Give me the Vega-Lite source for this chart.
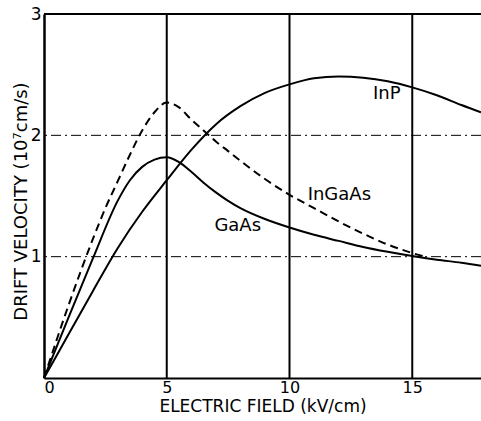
{
  "$schema": "https://vega.github.io/schema/vega-lite/v6.json",
  "autosize": "none",
  "width": 437,
  "height": 364,
  "padding": {"left": 44, "top": 14, "right": 0, "bottom": 43},
  "background": "white",
  "config": {"view": {"stroke": null}, "font": "DejaVu Sans"},
  "datasets": {
    "curves": [
      {"series": "GaAs", "x": 0, "y": 0}, {"series": "GaAs", "x": 1, "y": 0.5}, {"series": "GaAs", "x": 2, "y": 0.99},
      {"series": "GaAs", "x": 3, "y": 1.46}, {"series": "GaAs", "x": 3.5, "y": 1.63}, {"series": "GaAs", "x": 4, "y": 1.74},
      {"series": "GaAs", "x": 4.5, "y": 1.80}, {"series": "GaAs", "x": 5, "y": 1.82}, {"series": "GaAs", "x": 5.5, "y": 1.78},
      {"series": "GaAs", "x": 6, "y": 1.70}, {"series": "GaAs", "x": 6.5, "y": 1.61}, {"series": "GaAs", "x": 7, "y": 1.53},
      {"series": "GaAs", "x": 7.5, "y": 1.46}, {"series": "GaAs", "x": 8, "y": 1.40}, {"series": "GaAs", "x": 9, "y": 1.31},
      {"series": "GaAs", "x": 10, "y": 1.24}, {"series": "GaAs", "x": 11, "y": 1.18}, {"series": "GaAs", "x": 12, "y": 1.13},
      {"series": "GaAs", "x": 13, "y": 1.08}, {"series": "GaAs", "x": 14, "y": 1.04}, {"series": "GaAs", "x": 15, "y": 1.005},
      {"series": "GaAs", "x": 16, "y": 0.975}, {"series": "GaAs", "x": 17, "y": 0.95}, {"series": "GaAs", "x": 17.8, "y": 0.925},
      {"series": "InGaAs", "x": 0, "y": 0}, {"series": "InGaAs", "x": 1, "y": 0.6}, {"series": "InGaAs", "x": 2, "y": 1.15},
      {"series": "InGaAs", "x": 2.5, "y": 1.4}, {"series": "InGaAs", "x": 3, "y": 1.62}, {"series": "InGaAs", "x": 3.5, "y": 1.84},
      {"series": "InGaAs", "x": 4, "y": 2.04}, {"series": "InGaAs", "x": 4.5, "y": 2.19}, {"series": "InGaAs", "x": 5, "y": 2.27},
      {"series": "InGaAs", "x": 5.5, "y": 2.23}, {"series": "InGaAs", "x": 6, "y": 2.13}, {"series": "InGaAs", "x": 6.5, "y": 2.04},
      {"series": "InGaAs", "x": 7, "y": 1.95}, {"series": "InGaAs", "x": 7.5, "y": 1.87}, {"series": "InGaAs", "x": 8, "y": 1.79},
      {"series": "InGaAs", "x": 9, "y": 1.64},
      {"series": "InGaAs", "x": 10, "y": 1.51}, {"series": "InGaAs", "x": 11, "y": 1.4}, {"series": "InGaAs", "x": 12, "y": 1.29},
      {"series": "InGaAs", "x": 13, "y": 1.19}, {"series": "InGaAs", "x": 14, "y": 1.1}, {"series": "InGaAs", "x": 15, "y": 1.03},
      {"series": "InGaAs", "x": 15.6, "y": 0.995},
      {"series": "InP", "x": 0, "y": 0}, {"series": "InP", "x": 1, "y": 0.36}, {"series": "InP", "x": 2, "y": 0.72},
      {"series": "InP", "x": 3, "y": 1.07}, {"series": "InP", "x": 4, "y": 1.37}, {"series": "InP", "x": 5, "y": 1.63},
      {"series": "InP", "x": 6, "y": 1.88}, {"series": "InP", "x": 7, "y": 2.09}, {"series": "InP", "x": 8, "y": 2.24},
      {"series": "InP", "x": 9, "y": 2.35}, {"series": "InP", "x": 10, "y": 2.42}, {"series": "InP", "x": 11, "y": 2.47},
      {"series": "InP", "x": 12, "y": 2.485}, {"series": "InP", "x": 13, "y": 2.475}, {"series": "InP", "x": 14, "y": 2.445},
      {"series": "InP", "x": 15, "y": 2.395}, {"series": "InP", "x": 16, "y": 2.33}, {"series": "InP", "x": 17, "y": 2.25},
      {"series": "InP", "x": 17.8, "y": 2.19}
    ],
    "labels": [
      {"text": "InP", "x": 13.96, "y": 2.34},
      {"text": "InGaAs", "x": 12.03, "y": 1.51},
      {"text": "GaAs", "x": 7.89, "y": 1.255}
    ],
    "vgrid": [{"x": 5}, {"x": 10}, {"x": 15}],
    "hgrid": [{"y": 1, "kind": "dash"}, {"y": 2, "kind": "dash"}, {"y": 3, "kind": "solid"}]
  },
  "layer": [
    {
      "data": {"name": "hgrid"},
      "transform": [{"filter": "datum.kind == 'dash'"}],
      "mark": {"type": "rule", "color": "black", "strokeWidth": 1, "strokeDash": [10, 4, 2, 4]},
      "encoding": {
        "y": {"field": "y", "type": "quantitative", "scale": {"domain": [0, 3]}}
      }
    },
    {
      "data": {"name": "hgrid"},
      "transform": [{"filter": "datum.kind == 'solid'"}],
      "mark": {"type": "rule", "color": "black", "strokeWidth": 1.8},
      "encoding": {
        "y": {"field": "y", "type": "quantitative"}
      }
    },
    {
      "data": {"name": "vgrid"},
      "mark": {"type": "rule", "color": "black", "strokeWidth": 2},
      "encoding": {
        "x": {"field": "x", "type": "quantitative", "scale": {"domain": [0, 17.8]}}
      }
    },
    {
      "data": {"name": "curves"},
      "transform": [{"filter": "datum.series != 'InGaAs'"}],
      "mark": {"type": "line", "color": "black", "strokeWidth": 2, "interpolate": "monotone"},
      "encoding": {
        "x": {
          "field": "x", "type": "quantitative",
          "scale": {"domain": [0, 17.8], "nice": false},
          "axis": {
            "values": [0, 5, 10, 15], "title": "ELECTRIC FIELD (kV/cm)", "grid": false, "ticks": false,
            "domainColor": "black", "domainWidth": 2, "labelColor": "black", "labelFontSize": 16, "labelPadding": 1,
            "titleFontSize": 17, "titleFontWeight": "normal", "titleColor": "black", "titlePadding": 3
          }
        },
        "y": {
          "field": "y", "type": "quantitative",
          "scale": {"domain": [0, 3], "nice": false},
          "axis": {
            "values": [1, 2, 3], "format": "d", "title": "DRIFT VELOCITY (10⁷cm/s)", "grid": false, "ticks": false,
            "domainColor": "black", "domainWidth": 2.5, "labelColor": "black", "labelFontSize": 17, "labelPadding": 3,
            "titleFontSize": 18, "titleFontWeight": "normal", "titleColor": "black",
            "titleX": -23, "titleY": 187, "titleBaseline": "middle", "titleAlign": "center", "titleAngle": -90
          }
        },
        "detail": {"field": "series"}
      }
    },
    {
      "data": {"name": "curves"},
      "transform": [{"filter": "datum.series == 'InGaAs'"}],
      "mark": {"type": "line", "color": "black", "strokeWidth": 2, "interpolate": "monotone", "strokeDash": [8, 5]},
      "encoding": {
        "x": {"field": "x", "type": "quantitative"},
        "y": {"field": "y", "type": "quantitative"}
      }
    },
    {
      "data": {"name": "labels"},
      "mark": {"type": "text", "color": "black", "fontSize": 18, "align": "center", "baseline": "middle"},
      "encoding": {
        "x": {"field": "x", "type": "quantitative"},
        "y": {"field": "y", "type": "quantitative"},
        "text": {"field": "text"}
      }
    }
  ]
}
